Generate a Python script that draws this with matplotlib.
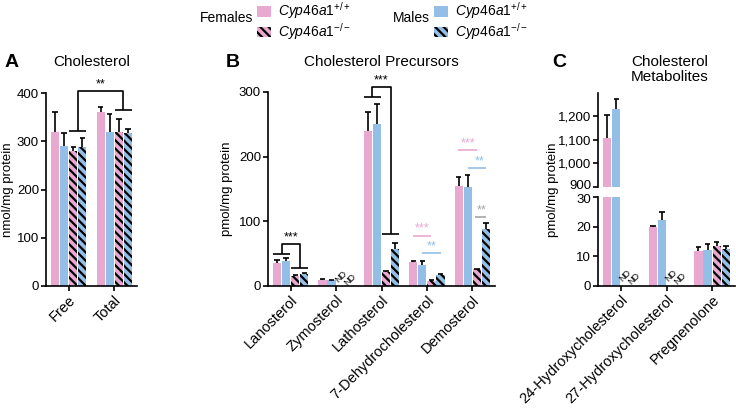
import matplotlib
matplotlib.use("Agg")
import matplotlib.pyplot as plt
import numpy as np
from matplotlib.patches import Patch
from matplotlib.ticker import FuncFormatter
from matplotlib.transforms import ScaledTranslation

plt.rcParams['font.family'] = ['Liberation Sans', 'DejaVu Sans']
plt.rcParams['mathtext.fontset'] = 'custom'
plt.rcParams['mathtext.rm'] = 'Liberation Sans'
plt.rcParams['mathtext.it'] = 'Liberation Sans:italic'
plt.rcParams['hatch.linewidth'] = 1.6

# ---------------- data ----------------
cats_A = ['Free', 'Total']
A_f_wt = [319, 360]; A_f_wt_err = [41, 10]
A_m_wt = [291, 319]; A_m_wt_err = [26, 37]
A_f_ko = [280, 320]; A_f_ko_err = [8, 26]
A_m_ko = [289, 317]; A_m_ko_err = [18, 8]

cats_B = ['Lanosterol', 'Zymosterol', 'Lathosterol', '7-Dehydrocholesterol', 'Demosterol']
B_f_wt = [36, 9.3, 240, 36.5, 154]; B_f_wt_err = [4, 1, 29, 2.5, 14]
B_m_wt = [38, 8.8, 250, 32, 153];   B_m_wt_err = [6, 1, 32, 7, 18]
B_f_ko = [16, np.nan, 22, 8.2, 26]; B_f_ko_err = [1, 0, 1, 1, 1]
B_m_ko = [18.5, np.nan, 57, 17.5, 88]; B_m_ko_err = [1.2, 0, 9, 1.5, 10]

cats_C = ['24-Hydroxycholesterol', '27-Hydroxycholesterol', 'Pregnenolone']
C_f_wt = [1107, 20.0, 11.7]; C_f_wt_err = [98, 0.15, 1.6]
C_m_wt = [1234, 22.2, 12.0]; C_m_wt_err = [40, 2.7, 2.1]
C_f_ko = [np.nan, np.nan, 13.4]; C_f_ko_err = [0, 0, 1.3]
C_m_ko = [np.nan, np.nan, 12.4]; C_m_ko_err = [0, 0, 1.0]

series_labels = [r'$\mathit{Cyp46a1}^{+/+}$', r'$\mathit{Cyp46a1}^{-/-}$']

# ---------------- style ----------------
PINK = '#E8A8D0'
BLUE = '#93BFE6'
GRAY = '#A5A5A5'
HATCH = '\\\\\\\\'
colors = [PINK, BLUE, PINK, BLUE]
hatches = [None, None, HATCH, HATCH]
offsets = [-0.3, -0.1, 0.1, 0.3]
BW = 0.18

W, H = 736, 408
fig = plt.figure(figsize=(W / 100, H / 100), dpi=100)


def ax_px(l, t, r, b):
    return fig.add_axes([l / W, 1 - b / H, (r - l) / W, (b - t) / H])


def style(ax, bottom=True):
    for s in ['top', 'right']:
        ax.spines[s].set_visible(False)
    ax.spines['left'].set_linewidth(1.2)
    ax.spines['bottom'].set_linewidth(1.2)
    ax.tick_params(width=1.2, length=3.5, labelsize=9.5, pad=1.5)
    if not bottom:
        ax.spines['bottom'].set_visible(False)
        ax.tick_params(axis='x', bottom=False, labelbottom=False)


def draw(ax, n, vals_list, err_list, nd_dy=None):
    x = np.arange(n)
    for i, (vals, errs) in enumerate(zip(vals_list, err_list)):
        v = np.array(vals, float)
        e = np.array(errs, float)
        pos = x + offsets[i]
        ok = ~np.isnan(v)
        if hatches[i]:
            ax.bar(pos[ok], v[ok], width=BW, color=colors[i], hatch=hatches[i],
                   edgecolor='black', linewidth=0)
        else:
            ax.bar(pos[ok], v[ok], width=BW, color=colors[i], linewidth=0)
        top = v[ok] + e[ok]
        ax.vlines(pos[ok], v[ok], top, color='black', lw=1.2)
        ax.hlines(top, pos[ok] - 0.06, pos[ok] + 0.06, color='black', lw=1.2)
        if nd_dy is not None:
            for p in pos[~ok]:
                ax.text(p, nd_dy[i - 2], 'ND', rotation=45, ha='center', va='center',
                        fontsize=6.5)
    ax.set_xlim(-0.5, n - 0.5)
    ax.set_xticks(x)


def xlabels(ax, labels):
    ax.set_xticklabels(labels, rotation=45, ha='right', rotation_mode='anchor', fontsize=10.5)


def stars(ax, x, y, s, c='black'):
    ax.text(x, y, s, ha='center', va='bottom', fontsize=9, color=c, clip_on=False)


def line(ax, xs, ys, c='black', lw=1.2):
    ax.plot(xs, ys, color=c, lw=lw, clip_on=False, solid_capstyle='butt')


# ---------------- Panel A ----------------
axA = ax_px(46, 93, 137, 286)
draw(axA, 2, [A_f_wt, A_m_wt, A_f_ko, A_m_ko], [A_f_wt_err, A_m_wt_err, A_f_ko_err, A_m_ko_err])
axA.set_ylim(0, 400)
axA.set_yticks([0, 100, 200, 300, 400])
style(axA)
xlabels(axA, cats_A)
axA.set_ylabel('nmol/mg protein', fontsize=9.5, labelpad=2)
line(axA, [0.01, 0.39], [322, 322])
line(axA, [1.01, 1.39], [364, 364])
line(axA, [0.2, 0.2, 1.2, 1.2], [322, 404, 404, 364])
stars(axA, 0.7, 405, '**')

# ---------------- Panel B ----------------
axB = ax_px(268, 92, 495, 286)
draw(axB, 5, [B_f_wt, B_m_wt, B_f_ko, B_m_ko], [B_f_wt_err, B_m_wt_err, B_f_ko_err, B_m_ko_err],
     nd_dy=[14, 10])
axB.set_ylim(0, 300)
axB.set_yticks([0, 100, 200, 300])
style(axB)
xlabels(axB, cats_B)
axB.set_ylabel('pmol/mg protein', fontsize=9.5, labelpad=4)
# Lanosterol
line(axB, [-0.39, -0.01], [50, 50])
line(axB, [0.01, 0.39], [28, 28])
line(axB, [-0.2, -0.2, 0.2, 0.2], [50, 65, 65, 28])
stars(axB, 0.0, 66, '***')
# Lathosterol
line(axB, [1.61, 1.99], [292, 292])
line(axB, [2.01, 2.39], [80, 80])
line(axB, [1.8, 1.8, 2.2, 2.2], [292, 308, 308, 80])
stars(axB, 2.0, 309, '***')
# 7-DHC
line(axB, [2.69, 3.1], [78, 78], PINK)
stars(axB, 2.9, 79, '***', PINK)
line(axB, [2.9, 3.3], [51, 51], BLUE)
stars(axB, 3.1, 52, '**', BLUE)
# Demosterol
line(axB, [3.69, 4.1], [210, 210], PINK)
stars(axB, 3.9, 211, '***', PINK)
line(axB, [3.9, 4.3], [183, 183], BLUE)
stars(axB, 4.15, 184, '**', BLUE)
line(axB, [4.05, 4.3], [107, 107], GRAY)
stars(axB, 4.2, 108, '**', GRAY)

# ---------------- Panel C ----------------
axC = ax_px(598, 197, 735, 286)
axCt = ax_px(598, 93, 735, 187)
vals_C = [C_f_wt, C_m_wt, C_f_ko, C_m_ko]
errs_C = [C_f_wt_err, C_m_wt_err, C_f_ko_err, C_m_ko_err]
draw(axC, 3, vals_C, errs_C, nd_dy=[3.4, 2.4])
draw(axCt, 3, vals_C, errs_C)
axC.set_ylim(0, 30)
axC.set_yticks([0, 10, 20, 30])
axCt.set_ylim(900, 1300)
axCt.set_yticks([900, 1000, 1100, 1200])
axCt.yaxis.set_major_formatter(FuncFormatter(lambda v, p: f'{v:,.0f}'))
style(axC)
style(axCt, bottom=False)
xlabels(axC, cats_C)
fig.canvas.draw()
lab900 = axCt.get_yticklabels()[0]
lab900.set_transform(lab900.get_transform() + ScaledTranslation(0, 2.0 / 100, fig.dpi_scale_trans))
lab30 = axC.get_yticklabels()[-1]
lab30.set_transform(lab30.get_transform() + ScaledTranslation(0, -2.0 / 100, fig.dpi_scale_trans))
fig.text(553 / W, 1 - 190 / H, 'pmol/mg protein', rotation=90, ha='center', va='center',
         fontsize=9.5)

# ---------------- titles & panel letters ----------------
for xc, t in [(91.5, 'Cholesterol'), (381, 'Cholesterol Precursors'),
              (670, 'Cholesterol\nMetabolites')]:
    fig.text(xc / W, 1 - 55 / H, t, ha='center', va='top', fontsize=11, linespacing=1.1)
for xl, t in [(5, 'A'), (226, 'B'), (552, 'C')]:
    fig.text(xl / W, 1 - 54 / H, t, ha='left', va='top', fontsize=14, fontweight='bold')

# ---------------- legend ----------------
fig.text(227 / W, 1 - 18 / H, 'Females', ha='center', va='center', fontsize=10)
fig.text(411 / W, 1 - 18 / H, 'Males', ha='center', va='center', fontsize=10)
for x0, c in [(257, PINK), (434, BLUE)]:
    handles = [Patch(facecolor=c, edgecolor='none', linewidth=0),
               Patch(facecolor=c, hatch=HATCH, edgecolor='black', linewidth=0)]
    fig.legend(handles, series_labels, loc='upper left', bbox_to_anchor=(x0 / W, 1 - 0.5 / H),
               frameon=False, fontsize=10, handlelength=1.0, handleheight=0.8,
               handletextpad=0.5, labelspacing=0.0, borderpad=0, borderaxespad=0)

fig.savefig('out.png', dpi=100)
